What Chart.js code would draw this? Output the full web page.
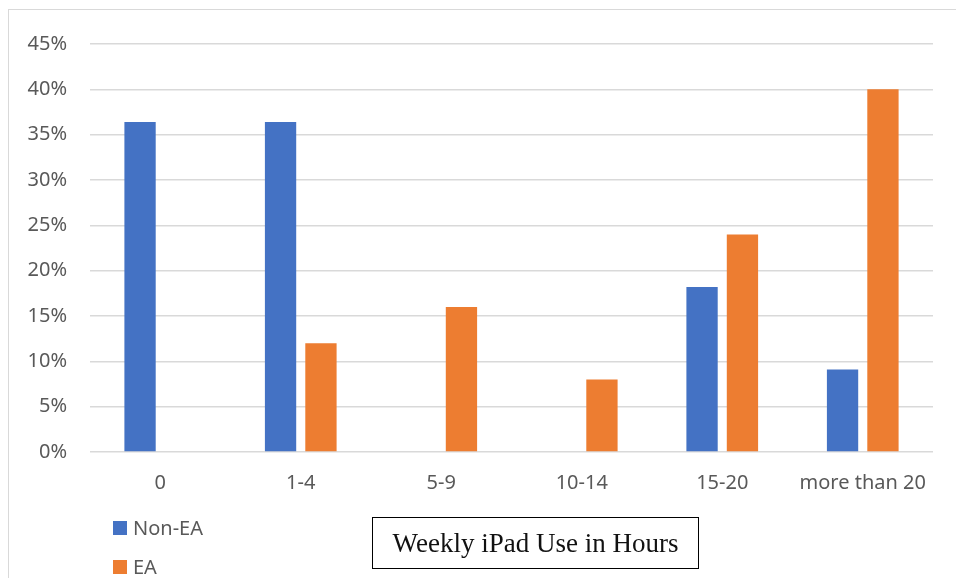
<!DOCTYPE html>
<html>
<head>
<meta charset="utf-8">
<script src="https://cdn.jsdelivr.net/npm/chart.js@4/dist/chart.umd.min.js"></script>
<style>
  html, body { margin: 0; padding: 0; background: #fff; overflow: hidden; }
  #wrap { position: relative; width: 956px; height: 578px; }
  #frame { position: absolute; left: 8px; top: 9px; width: 1000px; height: 600px; border: 1px solid #d9d9d9; box-sizing: border-box; }
  #chart { position: absolute; left: 0; top: 0; }
  #legend { position: absolute; left: 113px; top: 508px; font-family: "Noto Sans", sans-serif; font-size: 20px; color: #595959; }
  .leg-item { display: flex; align-items: center; height: 39px; }
  .leg-box { width: 14px; height: 14px; margin-right: 6px; }
  #title-box { position: absolute; left: 372px; top: 517px; width: 327px; height: 52px; border: 1px solid #000; box-sizing: border-box;
    font-family: "Liberation Serif", "Times New Roman", serif; font-size: 27px; color: #111; display: flex; align-items: center; justify-content: center; }
</style>
</head>
<body>
<div id="wrap">
  <div id="frame"></div>
  <canvas id="chart" width="956" height="578"></canvas>
  <div id="legend"></div>
  <div id="title-box">Weekly iPad Use in Hours</div>
</div>
<script>
const categories = ['0', '1-4', '5-9', '10-14', '15-20', 'more than 20'];
const nonEA = [36.4, 36.4, 0, 0, 18.2, 9.1];
const ea    = [0, 12, 16, 8, 24, 40];
const seriesNames  = ['Non-EA', 'EA'];
const seriesColors = ['#4472C4', '#ED7D31'];

const tickFont = { family: '"Noto Sans", sans-serif', size: 20 };

const chart = new Chart(document.getElementById('chart'), {
  type: 'bar',
  data: {
    labels: categories,
    datasets: [
      { label: seriesNames[0], data: nonEA, backgroundColor: seriesColors[0] },
      { label: seriesNames[1], data: ea,    backgroundColor: seriesColors[1] },
    ]
  },
  options: {
    responsive: false,
    animation: false,
    devicePixelRatio: 1,
    categoryPercentage: 0.575,
    barPercentage: 0.775,
    layout: { padding: { top: 44, right: 23, left: 0, bottom: 0 } },
    plugins: { legend: { display: false }, tooltip: { enabled: false } },
    scales: {
      y: {
        min: 0, max: 45,
        ticks: { stepSize: 5, callback: v => v + '%', color: '#595959', font: tickFont, padding: 23 },
        grid: { color: '#d9d9d9', lineWidth: 1.4, drawTicks: false },
        border: { display: false },
        afterFit: s => { s.width = 90; }
      },
      x: {
        ticks: { color: '#595959', font: tickFont, padding: 19, maxRotation: 0 },
        grid: { display: false, drawTicks: false },
        border: { display: false },
        afterFit: s => { s.height = 126; }
      }
    }
  }
});

// vertical legend under the plot, built from the datasets
const legend = document.getElementById('legend');
chart.data.datasets.forEach(ds => {
  const item = document.createElement('div');
  item.className = 'leg-item';
  item.innerHTML = `<span class="leg-box" style="background:${ds.backgroundColor}"></span><span>${ds.label}</span>`;
  legend.appendChild(item);
});
</script>
</body>
</html>
